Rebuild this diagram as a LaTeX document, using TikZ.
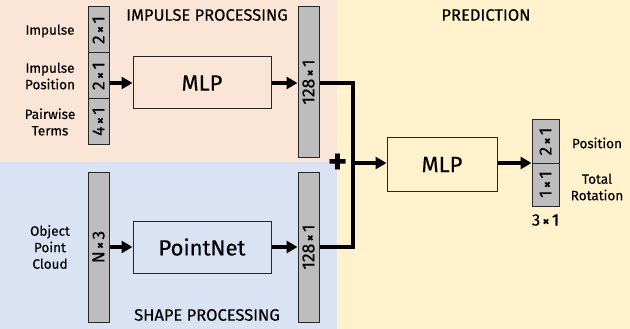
\documentclass[tikz,border=0pt]{standalone}
\usepackage{fontspec}
\setmainfont{Fira Sans}[FakeBold=0.35]
\usetikzlibrary{arrows.meta}
\definecolor{impbg}{HTML}{FBE5D6}
\definecolor{shpbg}{HTML}{DAE3F3}
\definecolor{prdbg}{HTML}{FFF2CC}
\definecolor{colgray}{HTML}{BDBDBD}
\definecolor{edge}{HTML}{262626}
\tikzset{
  vec/.style={draw=edge, line width=1pt, fill=colgray, inner sep=0pt, minimum width=21pt, font=\fontsize{17.5}{17.5}\selectfont},
  block/.style={draw=edge, line width=1pt, inner sep=0pt, minimum width=138pt, minimum height=52pt, font=\fontsize{22}{22}\selectfont},
  lbl/.style={align=center, font=\fontsize{13.5}{16.5}\selectfont, inner sep=0pt},
  ttl/.style={font=\fontsize{16.5}{16.5}\selectfont, inner sep=0pt},
  flow/.style={line width=3.5pt, -{Triangle[length=11pt,width=12pt]}},
  merge/.style={line width=3.5pt}
}
\newcommand{\timesmark}{{\fontsize{13}{13}\bfseries×}}
\newcommand{\dimtxt}[2]{\rotatebox{90}{#1\kern2.5pt\timesmark\kern2.5pt#2}}
\begin{document}
\begin{tikzpicture}[x=1pt,y=-1pt]
  \useasboundingbox (0,0) rectangle (630,329);
  % background regions
  \fill[impbg] (0,0) rectangle (337,162);
  \fill[shpbg] (0,162) rectangle (337,329);
  \fill[prdbg] (337,0) rectangle (630,329);

  % section titles
  \node[ttl] (t1) at (207,15) {IMPULSE PROCESSING};
  \node[ttl] (t2) at (207,315) {SHAPE PROCESSING};
  \node[ttl] (t3) at (486,15) {PREDICTION};

  % impulse inputs
  \node[vec, minimum height=46pt] (i1) at (98.5,30) {\dimtxt{2}{1}};
  \node[vec, minimum height=46pt] (i2) at (98.5,76) {\dimtxt{2}{1}};
  \node[vec, minimum height=45pt] (i3) at (98.5,121.5) {\dimtxt{4}{1}};
  \node[lbl] (l1) at (50,31) {Impulse};
  \node[lbl] (l2) at (50,76) {Impulse\\Position};
  \node[lbl] (l3) at (50,122) {Pairwise\\Terms};

  \node[block, minimum height=52pt] (mlp1) at (202,83) {MLP};
  \node[vec, minimum height=150pt] (f1) at (308.5,82) {\dimtxt{128}{1}};

  % shape inputs
  \node[vec, minimum height=150pt] (pc) at (98.5,247) {\dimtxt{N}{3}};
  \node[lbl] (l4) at (50,247) {Object\\Point\\Cloud};
  \node[block] (pn) at (202,247) {PointNet};
  \node[vec, minimum height=150pt] (f2) at (308.5,247) {\dimtxt{128}{1}};

  % prediction
  \node[block, minimum width=110pt, minimum height=53pt] (mlp2) at (442,164.5) {MLP};
  \node[vec, minimum width=27pt, minimum height=43pt] (o1) at (545.5,141.5) {\dimtxt{2}{1}};
  \node[vec, minimum width=27pt, minimum height=43pt] (o2) at (545.5,184.5) {\dimtxt{1}{1}};
  \node[lbl, font=\fontsize{16.5}{16.5}\selectfont] (l5) at (545.5,220) {3\kern2.5pt\timesmark\kern2.5pt1};
  \node[lbl] (l6) at (597,143) {Position};
  \node[lbl] (l7) at (597,187) {Total\\Rotation};

  % concatenation
  \coordinate (jt) at (353,83);
  \coordinate (jb) at (353,247);
  \coordinate (jm) at (353,163);
  \node[inner sep=0pt, font=\fontsize{36}{36}\bfseries\selectfont] (plus) at (337.5,163.5) {+};

  % connectors
  \draw[flow] (i2.east |- mlp1.west) -- (mlp1.west);
  \draw[flow] (mlp1.east) -- (mlp1.east -| f1.west);
  \draw[flow] (pc.east |- pn.west) -- (pn.west);
  \draw[flow] (pn.east) -- (pn.east -| f2.west);
  \draw[merge] (f1.east |- jt) -- (jt) -- (jb) -- (f2.east |- jb);
  \draw[flow] (jm) -- (jm -| mlp2.west);
  \draw[flow] (mlp2.east |- jm) -- (jm -| o1.west);
\end{tikzpicture}
\end{document}
